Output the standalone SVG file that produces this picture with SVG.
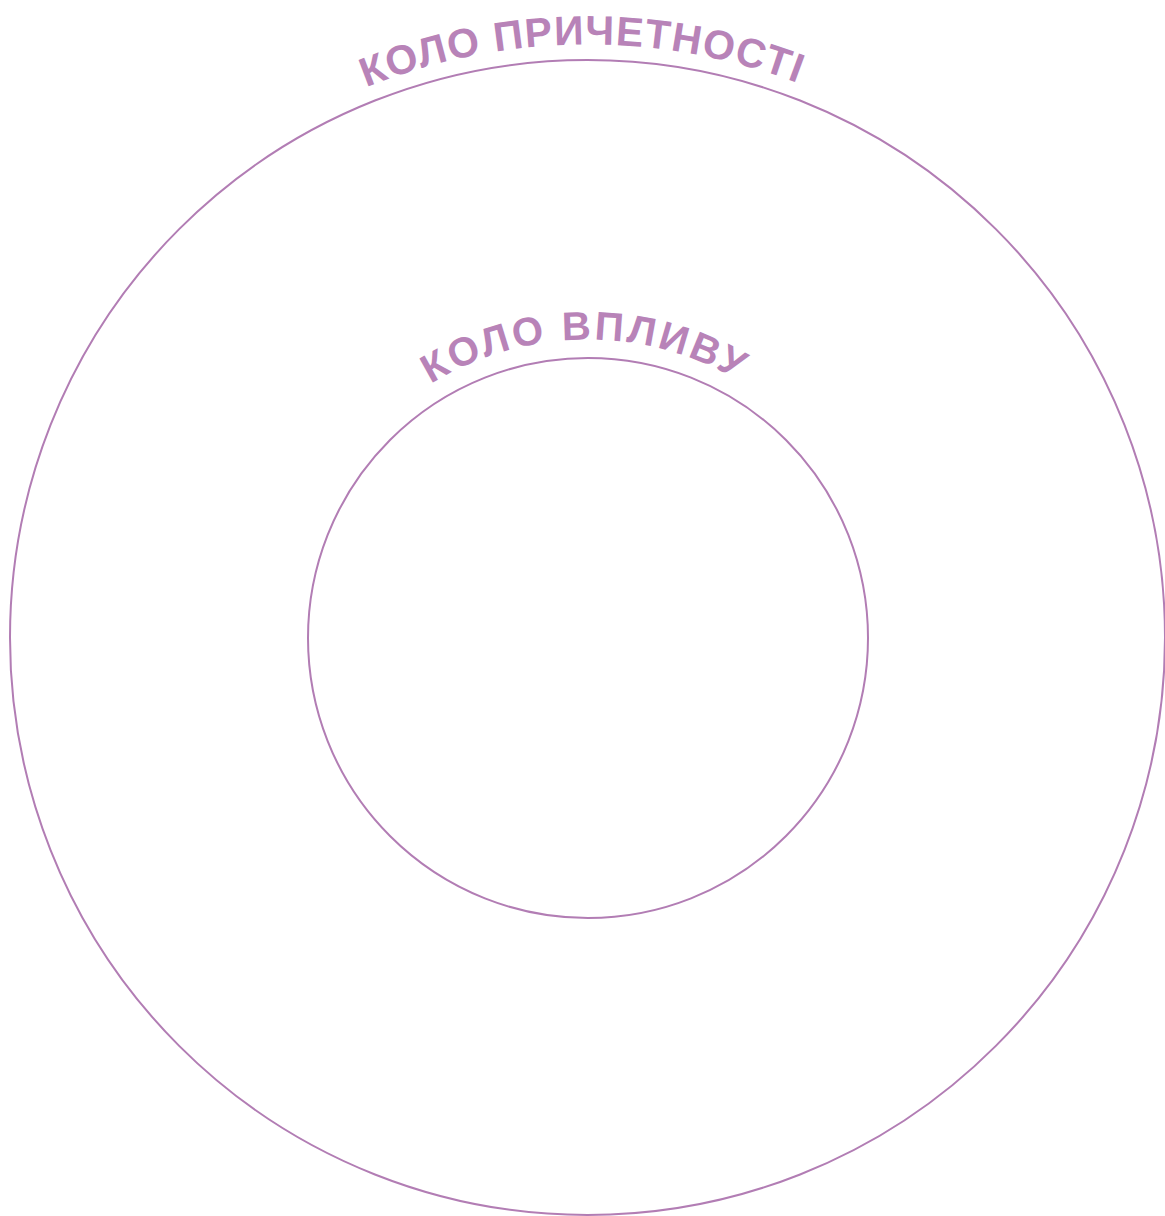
<svg xmlns="http://www.w3.org/2000/svg" xmlns:xlink="http://www.w3.org/1999/xlink" width="1165" height="1216" viewBox="0 0 1165 1216">
<style>
.ring{fill:none;stroke:#b27db4;stroke-width:2}
.lbl{fill:#b883b8;font-family:"Liberation Sans","DejaVu Sans",sans-serif;font-weight:bold}
</style>
<defs>
<path id="arcOuter" d="M -5.5 637.5 A 593 593 0 0 1 1180.5 637.5"/>
<path id="arcInner" d="M 289.5 637.5 A 298 298 0 0 1 885.5 637.5"/>
</defs>
<rect width="1165" height="1216" fill="#ffffff"/>
<g id="outer-circle">
<circle class="ring" cx="587.5" cy="637.5" r="577.5"/>
<text class="lbl" font-size="41" letter-spacing="1.3" text-anchor="middle"><textPath xlink:href="#arcOuter" href="#arcOuter" startOffset="49.7%">КОЛО ПРИЧЕТНОСТІ</textPath></text>
</g>
<g id="inner-circle">
<circle class="ring" cx="588" cy="638" r="280"/>
<text class="lbl" font-size="40" letter-spacing="3" text-anchor="middle"><textPath xlink:href="#arcInner" href="#arcInner" startOffset="49.7%">КОЛО ВПЛИВУ</textPath></text>
</g>
</svg>
